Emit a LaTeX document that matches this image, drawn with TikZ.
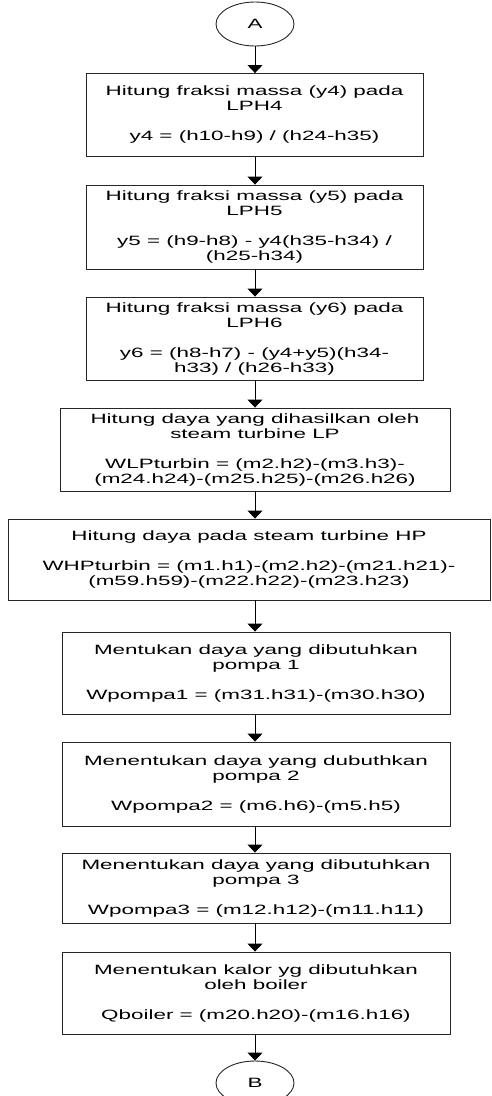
\documentclass[tikz,border=0pt]{standalone}
\usepackage{fontspec}
\newfontfamily\flowfont[FakeStretch=1.66]{Liberation Sans}
\usetikzlibrary{arrows.meta, shapes.geometric}

\begin{document}
\begin{tikzpicture}[x=1pt, y=-1pt,
    proses/.style={draw=black!85, line width=0.9pt, minimum width=337pt,
                   minimum height=83pt, inner sep=0pt, align=center,
                   font=\flowfont\fontsize{13.5}{15}\selectfont},
    konektor/.style={draw=black!85, line width=0.9pt, ellipse, minimum width=78pt,
                     minimum height=44pt, inner sep=0pt,
                     font=\flowfont\fontsize{13.5}{15}\selectfont},
    arr/.style={-{Triangle[width=15pt,length=8pt]}, line width=0.9pt}
  ]
    \useasboundingbox (0,0) rectangle (492,1096);
    \clip (0,0) rectangle (492,1096);

    \node[konektor] (ka) at (255, 24) {A};

    \node[proses] (s1) at (254.5, 115) {Hitung fraksi massa (y4) pada\\LPH4\\[15pt]y4 = (h10-h9) / (h24-h35)};
    \node[proses, minimum height=84pt] (s2) at (254.5, 227) {Hitung fraksi massa (y5) pada\\LPH5\\[15pt]y5 = (h9-h8) - y4(h35-h34) /\\(h25-h34)};
    \node[proses] (s3) at (254.5, 338.5) {Hitung fraksi massa (y6) pada\\LPH6\\[15pt]y6 = (h8-h7) - (y4+y5)(h34-\\h33) / (h26-h33)};
    \node[proses, minimum width=390pt] (s4) at (255, 449.5) {Hitung daya yang dihasilkan oleh\\steam turbine LP\\[15pt]WLPturbin = (m2.h2)-(m3.h3)-\\(m24.h24)-(m25.h25)-(m26.h26)};
    \node[proses, minimum width=482pt, minimum height=81pt] (s5) at (249, 559.5) {Hitung daya pada steam turbine HP\\[15pt]WHPturbin = (m1.h1)-(m2.h2)-(m21.h21)-\\(m59.h59)-(m22.h22)-(m23.h23)};
    \node[proses, minimum width=388pt, minimum height=82pt] (s6) at (256, 673) {Mentukan daya yang dibutuhkan\\pompa 1\\[15pt]Wpompa1 = (m31.h31)-(m30.h30)};
    \node[proses, minimum width=388pt, minimum height=84pt] (s7) at (256, 784) {Menentukan daya yang dubuthkan\\pompa 2\\[15pt]Wpompa2 = (m6.h6)-(m5.h5)};
    \node[proses, minimum width=388pt, minimum height=70pt] (s8) at (256, 888) {Menentukan daya yang dibutuhkan\\pompa 3\\[15pt]Wpompa3 = (m12.h12)-(m11.h11)};
    \node[proses, minimum width=388pt, minimum height=82pt] (s9) at (256, 993) {Menentukan kalor yg dibutuhkan\\oleh boiler\\[15pt]Qboiler = (m20.h20)-(m16.h16)};

    \node[konektor] (kb) at (255, 1083) {B};

    \draw[arr] (ka) -- (ka |- s1.north);
    \draw[arr] (ka |- s1.south) -- (ka |- s2.north);
    \draw[arr] (ka |- s2.south) -- (ka |- s3.north);
    \draw[arr] (ka |- s3.south) -- (ka |- s4.north);
    \draw[arr] (ka |- s4.south) -- (ka |- s5.north);
    \draw[arr] (ka |- s5.south) -- (ka |- s6.north);
    \draw[arr] (ka |- s6.south) -- (ka |- s7.north);
    \draw[arr] (ka |- s7.south) -- (ka |- s8.north);
    \draw[arr] (ka |- s8.south) -- (ka |- s9.north);
    \draw[arr] (ka |- s9.south) -- (kb);
  \end{tikzpicture}
\end{document}
